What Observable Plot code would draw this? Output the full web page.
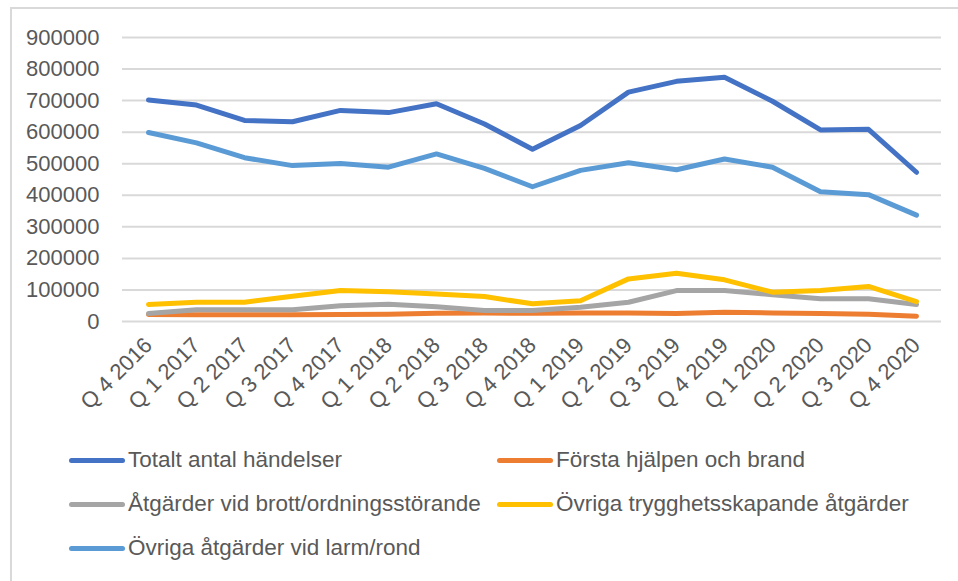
<!DOCTYPE html>
<html>
<head>
<meta charset="utf-8">
<script src="https://cdn.jsdelivr.net/npm/d3@7"></script>
<script src="https://cdn.jsdelivr.net/npm/@observablehq/plot@0.6"></script>
<style>
  html, body { margin: 0; padding: 0; background: #fff; }
  #wrap { position: relative; width: 958px; height: 581px; overflow: hidden; font-family: "Liberation Sans", Arial, sans-serif; }
  #frame { position: absolute; left: 10px; top: 7px; width: 960px; height: 600px; border-left: 2px solid #d9d9d9; border-top: 2px solid #d9d9d9; box-sizing: border-box; }
  #chart { position: absolute; left: 0; top: 0; }
  #legend { position: absolute; left: 69px; top: 438px; display: grid; grid-template-columns: 428px auto; grid-auto-rows: 44px; }
  .item { display: flex; align-items: center; font-size: 22.5px; color: #595959; white-space: nowrap; }
  .sw { width: 56px; height: 5px; border-radius: 3px; margin-right: 3px; }
</style>
</head>
<body>
<div id="wrap">
  <div id="frame"></div>
  <div id="chart"></div>
  <div id="legend"></div>
</div>
<script>
const quarters = ["Q 4 2016","Q 1 2017","Q 2 2017","Q 3 2017","Q 4 2017","Q 1 2018","Q 2 2018","Q 3 2018","Q 4 2018","Q 1 2019","Q 2 2019","Q 3 2019","Q 4 2019","Q 1 2020","Q 2 2020","Q 3 2020","Q 4 2020"];
const seriesNames = ["Totalt antal händelser","Första hjälpen och brand","Åtgärder vid brott/ordningsstörande","Övriga trygghetsskapande åtgärder","Övriga åtgärder vid larm/rond"];
const seriesColors = ["#4472C4","#ED7D31","#A5A5A5","#FFC000","#5B9BD5"];
const totalt = [702000, 686000, 637000, 633000, 669000, 662000, 690000, 626000, 546000, 621000, 727000, 761000, 774000, 698000, 607000, 609000, 473000];
const forsta = [22000, 21000, 21000, 21000, 22000, 23000, 26000, 27000, 26000, 27000, 27000, 25000, 29000, 27000, 25000, 23000, 17000];
const brott = [25000, 37000, 37000, 37000, 50000, 55000, 47000, 35000, 35000, 45000, 61000, 98000, 98000, 85000, 72000, 72000, 54000];
const trygg = [54000, 61000, 61000, 80000, 98000, 94000, 87000, 79000, 56000, 66000, 135000, 153000, 132000, 93000, 98000, 111000, 63000];
const larm = [599000, 566000, 519000, 494000, 501000, 489000, 531000, 485000, 427000, 479000, 503000, 481000, 515000, 489000, 411000, 402000, 337000];
const yTicks = [0, 100000, 200000, 300000, 400000, 500000, 600000, 700000, 800000, 900000];

const allSeries = [totalt, forsta, brott, trygg, larm];
const data = [];
allSeries.forEach((vals, si) => vals.forEach((v, i) => data.push({quarter: quarters[i], value: v, series: seriesNames[si]})));

const chart = Plot.plot({
  width: 958,
  height: 430,
  marginLeft: 122,
  marginRight: 17,
  marginTop: 37,
  marginBottom: 109,
  style: { fontFamily: "'Liberation Sans', Arial, sans-serif", fontSize: "22px", color: "#595959", background: "transparent" },
  x: { type: "point", domain: quarters, padding: 0.5, label: null },
  y: { domain: [0, 900000], label: null },
  color: { domain: seriesNames, range: seriesColors },
  marks: [
    Plot.gridY(yTicks, { stroke: "#d9d9d9", strokeWidth: 2, strokeOpacity: 1 }),
    Plot.axisY(yTicks, { tickSize: 0, tickPadding: 23, tickFormat: d3.format("d"), label: null }),
    Plot.axisX({ tickSize: 0, tickRotate: -45, tickPadding: 20, label: null }),
    Plot.line(data, { x: "quarter", y: "value", z: "series", stroke: "series", strokeWidth: 5, strokeLinejoin: "round", strokeLinecap: "round" })
  ]
});
document.getElementById("chart").appendChild(chart);

const legend = document.getElementById("legend");
seriesNames.forEach((name, i) => {
  const item = document.createElement("div");
  item.className = "item";
  const sw = document.createElement("div");
  sw.className = "sw";
  sw.style.background = seriesColors[i];
  const label = document.createElement("span");
  label.textContent = name;
  item.appendChild(sw);
  item.appendChild(label);
  legend.appendChild(item);
});
</script>
</body>
</html>
